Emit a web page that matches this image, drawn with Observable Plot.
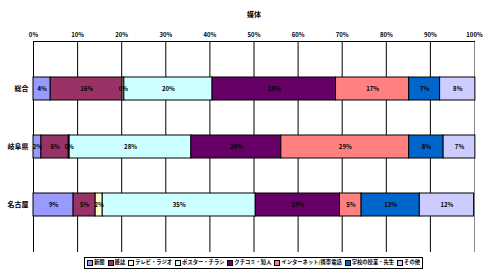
<!DOCTYPE html>
<html><head><meta charset="utf-8">
<script src="https://cdn.jsdelivr.net/npm/d3@7"></script>
<script src="https://cdn.jsdelivr.net/npm/@observablehq/plot@0.6"></script>
<style>
body{margin:0;background:#fff;font-family:"Noto Sans CJK JP",sans-serif;}
#wrap{position:relative;width:492px;height:272px;}
#legend{position:absolute;left:84px;top:257px;width:339px;height:12px;border:1px solid #000;display:flex;align-items:center;justify-content:space-between;padding:0 2px;font-size:5.3px;font-weight:bold;line-height:1;white-space:nowrap;box-sizing:border-box;}
#legend span.sw{display:inline-block;width:4px;height:4px;border:0.5px solid #000;margin-right:1px;vertical-align:middle;}
</style></head>
<body><div id="wrap"></div>
<script>
const categories = ["総合", "岐阜県", "名古屋"];
const seriesNames = ["新聞", "雑誌", "テレビ・ラジオ", "ポスター・チラシ", "クチコミ・知人", "インターネット/携帯電話", "学校の授業・先生", "その他"];
const colors = ["#9999FF", "#993366", "#FFFFCC", "#CCFFFF", "#660066", "#FF8080", "#0066CC", "#CCCCFF"];
const valuesSogo   = [3.9, 16.3, 0.4, 20.0, 28.0, 16.6, 7.0, 8.0];
const valuesGifu   = [1.8, 6.2, 0.2, 27.6, 20.4, 29.0, 7.8, 7.2];
const valuesNagoya = [9.1, 5.0, 1.6, 34.7, 19.1, 4.9, 13.2, 12.3];
const tickValues = [0, 10, 20, 30, 40, 50, 60, 70, 80, 90, 100];
const title = "媒体";

const rows = [valuesSogo, valuesGifu, valuesNagoya];
const data = [];
categories.forEach((c, i) => rows[i].forEach((v, j) => data.push({cat: c, series: seriesNames[j], value: v, label: Math.round(v) + "%"})));

const font = '"Noto Sans CJK JP", sans-serif';
const plot = Plot.plot({
  width: 492, height: 272,
  marginLeft: 33, marginRight: 18, marginTop: 41, marginBottom: 20,
  style: {fontFamily: font, background: "#fff"},
  x: {domain: [0, 100], axis: null},
  y: {domain: categories, padding: 0.6, axis: null},
  color: {domain: seriesNames, range: colors},
  marks: [
    Plot.ruleX(tickValues, {stroke: "#000", strokeWidth: 1}),
    Plot.ruleX([100], {stroke: "#888", strokeWidth: 1}),
    Plot.frame({anchor: "top", stroke: "#000"}),
    Plot.text(tickValues, {x: d => d, text: d => d + "%", frameAnchor: "top", dy: -9, fontSize: 6, fontWeight: "bold", fill: "#000"}),
    Plot.text([title], {frameAnchor: "top", dy: -29, text: d => d, fontSize: 7, fontWeight: "bold", fill: "#000"}),
    Plot.barX(data, Plot.stackX({x: "value", y: "cat", fill: "series", z: "series", order: seriesNames, stroke: "#000", strokeWidth: 1})),
    Plot.text(data, Plot.stackX({x: "value", y: "cat", z: "series", order: seriesNames, text: "label", fontSize: 6, fontWeight: "bold", fill: "#000"})),
    Plot.text(categories, {y: d => d, text: d => d, frameAnchor: "left", textAnchor: "end", dx: -5, fontSize: 7, fontWeight: "bold", fill: "#000"})
  ]
});
const wrap = document.getElementById("wrap");
wrap.appendChild(plot);
const leg = document.createElement("div");
leg.id = "legend";
seriesNames.forEach((s, i) => {
  const it = document.createElement("span");
  it.innerHTML = `<span class="sw" style="background:${colors[i]}"></span>${s}`;
  leg.appendChild(it);
});
wrap.appendChild(leg);
</script></body></html>
